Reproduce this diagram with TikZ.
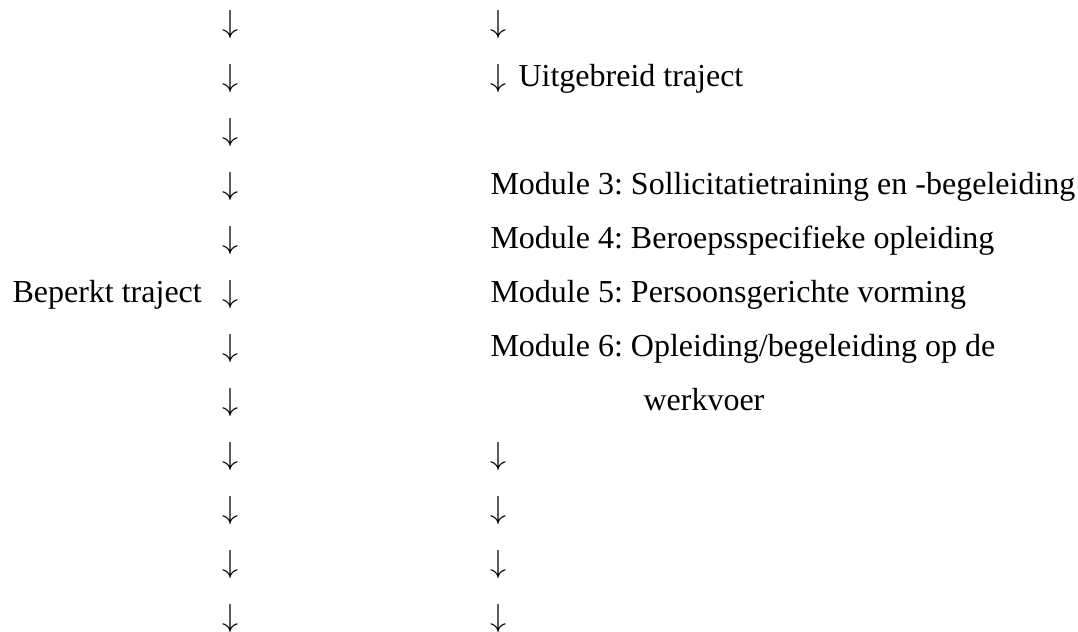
\documentclass[tikz,border=0pt]{standalone}
\usepackage{fontspec}
\setmainfont{Liberation Serif}
\frenchspacing
\begin{document}
\begin{tikzpicture}[x=0.375pt,y=-0.375pt]
\tikzstyle{every node}=[inner sep=0pt,font=\fontsize{12}{14}\selectfont]
\tikzstyle{down}=[anchor=base]
\tikzstyle{txt}=[anchor=base west]
\useasboundingbox (0,0) rectangle (1078,632);
% left column
\node[down] (l1) at (230,33) {$\downarrow$};
\node[down] (l2) at (230,87) {$\downarrow$};
\node[down] (l3) at (230,141) {$\downarrow$};
\node[down] (l4) at (230,195) {$\downarrow$};
\node[down] (l5) at (230,249) {$\downarrow$};
\node[down] (l6) at (230,303) {$\downarrow$};
\node[down] (l7) at (230,357) {$\downarrow$};
\node[down] (l8) at (230,411) {$\downarrow$};
\node[down] (l9) at (230,465) {$\downarrow$};
\node[down] (l10) at (230,519) {$\downarrow$};
\node[down] (l11) at (230,573) {$\downarrow$};
\node[down] (l12) at (230,627) {$\downarrow$};
\node[txt] (beperkt) at (12,303) {Beperkt traject};
% right column
\node[down] (r1) at (498,33) {$\downarrow$};
\node[down] (r2) at (498,87) {$\downarrow$};
\node[txt] (uitgebreid) at (518,87) {Uitgebreid traject};
\node[txt] (m3) at (490,195) {Module 3: Sollicitatietraining en -begeleiding};
\node[txt] (m4) at (490,249) {Module 4: Beroepsspecifieke opleiding};
\node[txt] (m5) at (490,303) {Module 5: Persoonsgerichte vorming};
\node[txt] (m6) at (490,357) {Module 6: Opleiding/begeleiding op de};
\node[txt] (m6b) at (643,411) {werkvoer};
\node[down] (r9) at (498,465) {$\downarrow$};
\node[down] (r10) at (498,519) {$\downarrow$};
\node[down] (r11) at (498,573) {$\downarrow$};
\node[down] (r12) at (498,627) {$\downarrow$};
\end{tikzpicture}
\end{document}
